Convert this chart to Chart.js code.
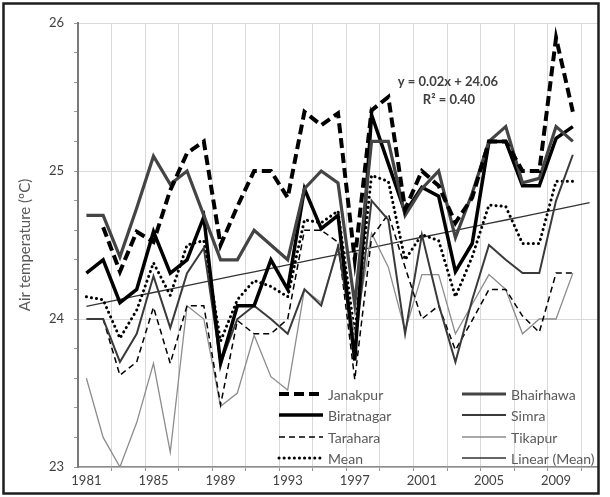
<!DOCTYPE html>
<html>
<head>
<meta charset="utf-8">
<script src="https://cdn.jsdelivr.net/npm/chart.js@4.4.1/dist/chart.umd.min.js"></script>
<style>
  html, body { margin: 0; padding: 0; background: #fff; }
  #wrap { width: 610px; height: 497px; position: relative; }
</style>
</head>
<body>
<div id="wrap"><canvas id="myChart"></canvas></div>
<script>
// categories (2011 only carries the trend line forecast)
const years = ['1981','1982','1983','1984','1985','1986','1987','1988','1989','1990',
  '1991','1992','1993','1994','1995','1996','1997','1998','1999','2000',
  '2001','2002','2003','2004','2005','2006','2007','2008','2009','2010','2011'];

const janakpur   = [null, 24.62, 24.32, 24.59, 24.52, 24.87, 25.12, 25.2, 24.5, 24.76, 25.0, 25.0, 24.82, 25.4, 25.31, 25.39, 24.4, 25.41, 25.5, 24.74, 25.0, 24.9, 24.65, 24.82, 25.2, 25.2, 25.0, 25.0, 25.9, 25.4];
const bhairhawa  = [24.7, 24.7, 24.42, 24.75, 25.1, 24.91, 25.0, 24.7, 24.4, 24.4, 24.6, 24.5, 24.4, 24.88, 25.0, 24.92, 24.1, 25.2, 25.2, 24.7, 24.88, 25.0, 24.55, 24.85, 25.2, 25.3, 24.92, 24.95, 25.3, 25.2];
const biratnagar = [24.31, 24.4, 24.11, 24.2, 24.59, 24.31, 24.4, 24.69, 23.7, 24.09, 24.09, 24.4, 24.2, 24.88, 24.61, 24.7, 23.72, 25.38, 25.05, 24.72, 24.89, 24.83, 24.32, 24.51, 25.2, 25.2, 24.9, 24.9, 25.22, 25.3];
const simra      = [24.0, 24.0, 23.71, 23.9, 24.29, 23.94, 24.31, 24.48, 23.7, 24.0, 24.09, 24.0, 23.9, 24.2, 24.09, 24.49, 23.8, 24.8, 24.67, 23.9, 24.57, 24.1, 23.71, 24.13, 24.5, 24.4, 24.31, 24.31, 24.8, 25.11];
const tarahara   = [null, 24.0, 23.62, 23.71, 24.08, 23.7, 24.09, 24.09, 23.42, 23.99, 23.9, 23.9, 24.0, 24.6, 24.6, 24.52, 23.59, 24.55, 24.71, 24.35, 24.0, 24.09, 23.79, 23.99, 24.2, 24.2, 24.02, 23.91, 24.31, 24.31];
const tikapur    = [23.6, 23.2, 23.0, 23.3, 23.7, 23.1, 24.09, 24.0, 23.41, 23.5, 23.89, 23.61, 23.52, 24.2, 24.11, 24.47, 23.9, 24.58, 24.35, 23.92, 24.3, 24.3, 23.9, 24.1, 24.3, 24.2, 23.9, 24.0, 24.0, 24.31];
const meanTemp   = [24.15, 24.13, 23.87, 24.06, 24.38, 24.16, 24.5, 24.53, 23.85, 24.13, 24.26, 24.22, 24.15, 24.67, 24.65, 24.73, 23.9, 24.97, 24.93, 24.4, 24.57, 24.53, 24.15, 24.42, 24.77, 24.76, 24.51, 24.51, 24.93, 24.93];

const yTickLabels = [23, 24, 25, 26];
const eqText = ['y = 0.02x + 24.06', 'R² = 0.40'];

// least squares trend of the mean (x = 1, 2, ...), carried one year forward
function linearTrend(vals, len) {
  const n = vals.length;
  let sx = 0, sy = 0, sxx = 0, sxy = 0;
  vals.forEach((v, i) => { const x = i + 1; sx += x; sy += v; sxx += x * x; sxy += x * v; });
  const b = (n * sxy - sx * sy) / (n * sxx - sx * sx);
  const a = (sy - b * sx) / n;
  const out = [];
  for (let i = 0; i < len; i++) out.push(a + b * (i + 1));
  return out;
}
const trend = linearTrend(meanTemp, years.length);

const FONT = 'Lato, "Open Sans", sans-serif';

const legendPlugin = {
  id: 'boxLegend',
  afterDraw(chart) {
    const c = chart.ctx;
    const items = [
      [0, 279, 394], [2, 279, 415], [4, 279, 437], [6, 279, 458],
      [1, 462, 394], [3, 462, 415], [5, 462, 437], [7, 462, 458]
    ];
    c.save();
    items.forEach(([i, x, y]) => {
      const ds = chart.data.datasets[i];
      c.beginPath();
      c.strokeStyle = ds.borderColor;
      c.lineWidth = ds.borderWidth;
      c.lineCap = ds.borderCapStyle || 'butt';
      c.setLineDash(ds.borderDash || []);
      c.moveTo(x, y);
      c.lineTo(x + 44, y);
      c.stroke();
      c.setLineDash([]);
      c.fillStyle = '#595959';
      c.font = '14px ' + FONT;
      c.textBaseline = 'middle';
      c.textAlign = 'left';
      c.fillText(ds.label, x + 49, y + 1);
    });
    // trend equation
    c.fillStyle = '#404040';
    c.font = 'bold 13px ' + FONT;
    c.textAlign = 'center';
    c.fillText(eqText[0], 448, 82);
    c.fillText(eqText[1], 449, 100);
    // outer frame
    c.strokeStyle = '#1e1e1e';
    c.lineWidth = 2.5;
    c.strokeRect(3.5, 3.5, 595, 490);
    c.restore();
  }
};

const ctx = document.getElementById('myChart');

new Chart(ctx, {
  type: 'line',
  data: {
    labels: years,
    datasets: [
      { label: 'Janakpur', data: janakpur, borderColor: '#000', borderWidth: 4, borderDash: [10, 5] },
      { label: 'Bhairhawa', data: bhairhawa, borderColor: '#444', borderWidth: 3.2 },
      { label: 'Biratnagar', data: biratnagar, borderColor: '#000', borderWidth: 3.5 },
      { label: 'Simra', data: simra, borderColor: '#3a3a3a', borderWidth: 2 },
      { label: 'Tarahara', data: tarahara, borderColor: '#000', borderWidth: 1.5, borderDash: [6, 4] },
      { label: 'Tikapur', data: tikapur, borderColor: '#8c8c8c', borderWidth: 1.3 },
      { label: 'Mean', data: meanTemp, borderColor: '#000', borderWidth: 3, borderDash: [0.1, 5], borderCapStyle: 'round' },
      { label: 'Linear (Mean)', data: trend, borderColor: '#333', borderWidth: 1.3 }
    ]
  },
  options: {
    responsive: true,
    maintainAspectRatio: false,
    animation: false,
    layout: { padding: { left: 6, right: 12, top: 23, bottom: 6 } },
    elements: {
      point: { radius: 0 },
      line: { tension: 0, fill: false }
    },
    scales: {
      x: {
        type: 'category',
        offset: true,
        afterFit: s => { s.height = 24; },
        grid: {
          offset: true,
          color: c => (c.index > 0 && c.index % 2 === 0) ? '#d9d9d9' : 'rgba(0,0,0,0)',
          tickColor: c => (c.index > 0 && c.index % 2 === 0) ? '#999' : 'rgba(0,0,0,0)',
          tickLength: 4
        },
        border: { color: '#8c8c8c', width: 1.5 },
        ticks: {
          autoSkip: false,
          maxRotation: 0,
          padding: 2,
          color: '#404040',
          font: { family: FONT, size: 13 },
          callback: (v, i) => (i % 4 === 0 && i <= 28) ? years[i] : ''
        }
      },
      y: {
        min: 23,
        max: 26,
        afterFit: s => { s.width = 72; },
        grid: {
          color: c => yTickLabels.some(t => Math.abs(t - c.tick.value) < 1e-6) ? '#d9d9d9' : 'rgba(0,0,0,0)',
          tickColor: '#999',
          tickLength: 4
        },
        border: { color: '#7a7a7a', width: 2 },
        ticks: {
          stepSize: 0.2,
          autoSkip: false,
          padding: 10,
          color: '#404040',
          font: { family: FONT, size: 13 },
          callback: v => {
            const t = yTickLabels.find(t => Math.abs(t - v) < 1e-6);
            return t === undefined ? '' : String(t);
          }
        },
        title: {
          display: true,
          text: 'Air temperature (ºC)',
          color: '#595959',
          font: { family: FONT, size: 15 },
          padding: { top: 10, bottom: 4 }
        }
      }
    },
    plugins: {
      legend: { display: false },
      tooltip: { enabled: false }
    }
  },
  plugins: [legendPlugin]
});
</script>
</body>
</html>
